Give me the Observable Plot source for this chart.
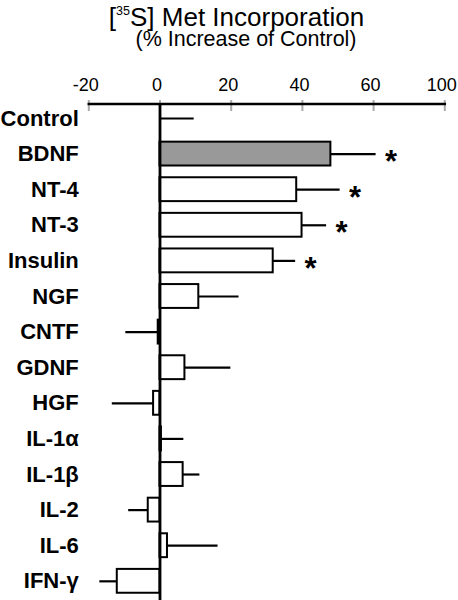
<!DOCTYPE html>
<html>
<head>
<meta charset="utf-8">
<script src="https://cdn.jsdelivr.net/npm/d3@7"></script>
<script src="https://cdn.jsdelivr.net/npm/@observablehq/plot@0.6"></script>
<style>
  html, body { margin: 0; padding: 0; background: white; }
  body { width: 458px; height: 600px; overflow: hidden; font-family: "Liberation Sans", Arial, sans-serif; }
  #head { position: relative; height: 60px; }
  #t1 { position: absolute; left: 0; width: 473px; text-align: center; top: 6px; font-size: 26px; line-height: 22px; white-space: nowrap; }
  #t1 sup { font-size: 12.5px; line-height: 0; vertical-align: baseline; position: relative; top: -11px; }
  #t2 { position: absolute; left: 0; width: 492px; text-align: center; top: 29.8px; font-size: 21.5px; line-height: 19px; white-space: nowrap; }
  svg { display: block; }
</style>
</head>
<body>
<div id="head">
  <div id="t1">[<sup>35</sup>S] Met Incorporation</div>
  <div id="t2">(% Increase of Control)</div>
</div>
<div id="chart"></div>
<script>
const categories = ["Control","BDNF","NT-4","NT-3","Insulin","NGF","CNTF","GDNF","HGF","IL-1α","IL-1β","IL-2","IL-6","IFN-γ"];
const values = [0, 48.0, 38.4, 39.9, 31.8, 10.9, -0.5, 7.0, -1.8, 0.4, 6.5, -3.3, 2.1, -12.0];
const sem = [9.6, 12.7, 12.2, 6.9, 6.3, 11.3, 9.1, 12.9, 11.6, 6.3, 4.7, 5.5, 14.2, 4.9];
const significant = ["BDNF","NT-4","NT-3","Insulin"];
const highlighted = ["BDNF"];
const tickValues = [-20, 0, 20, 40, 60, 80];
const tickLabels = ["-20", "0", "20", "40", "60", "100"];

const data = categories.map((name, i) => {
  const v = values[i];
  const dir = v < 0 ? -1 : 1;
  return {name, value: v, sem: sem[i], errEnd: v + dir * sem[i]};
});
const stars = data.filter(d => significant.includes(d.name));
const ticks = tickValues.map((v, i) => ({v, label: tickLabels[i]}));

const H = 540;
const chart = Plot.plot({
  width: 458,
  height: H,
  marginLeft: 88.3,
  marginRight: 13.7,
  marginTop: 43.5,
  marginBottom: 0,
  style: {fontFamily: '"Liberation Sans", Arial, sans-serif', background: "white", color: "black"},
  x: {domain: [-20, 80], axis: null},
  y: {domain: categories, range: [34.3, 544.5], padding: 0.33, round: false, label: null},
  marks: [
    Plot.ruleX(ticks, {x: "v", stroke: "#aaaaaa", strokeWidth: 2, insetTop: -3.5, insetBottom: H - 51}),
    Plot.frame({anchor: "top", stroke: "black", strokeWidth: 2.5}),
    Plot.text(ticks, {x: "v", text: "label", frameAnchor: "top", lineAnchor: "bottom", dy: -13.5, dx: -3, fontSize: 18, fill: "black"}),
    Plot.axisY({anchor: "left", tickSize: 0, tickPadding: 10, fontSize: 22, fontWeight: "bold", fill: "black", label: null}),
    Plot.ruleY(data, {y: "name", x1: "value", x2: "errEnd", stroke: "black", strokeWidth: 2.2}),
    Plot.barX(data, {y: "name", x1: 0, x2: "value", fill: d => highlighted.includes(d.name) ? "#999999" : "white", stroke: "black", strokeWidth: 2}),
    Plot.ruleX([0], {stroke: "black", strokeWidth: 2.8}),
    Plot.text(stars, {x: "errEnd", y: "name", text: () => "*", dx: 15, dy: 8, fontSize: 31, fontWeight: "bold", fill: "black"})
  ]
});
document.getElementById("chart").appendChild(chart);
</script>
</body>
</html>
